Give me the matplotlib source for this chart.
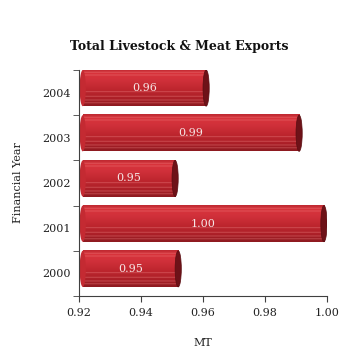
import numpy as np
import matplotlib
matplotlib.use("Agg")
import matplotlib.pyplot as plt
from matplotlib.patches import Ellipse
from matplotlib.colors import to_rgb

years = ["2000", "2001", "2002", "2003", "2004"]
exports = [0.952, 0.999, 0.951, 0.991, 0.961]
labels = ["0.95", "1.00", "0.95", "0.99", "0.96"]
xticks = [0.92, 0.94, 0.96, 0.98, 1.00]

plt.rcParams['font.family'] = ['DejaVu Serif']

fig = plt.figure(figsize=(3.41, 3.49), dpi=100)
ax = fig.add_axes([0.2317, 0.152, 0.7273, 0.6474])

xmin, xmax = 0.92, 1.00

# vertical shading of the cylinder, top -> bottom
stops = [(0.0, "#c02a32"), (0.1, "#d8343c"), (0.3, "#d0303a"),
         (0.55, "#be262e"), (0.8, "#ac2028"), (1.0, "#8e1a20")]
n = 40
pos = np.linspace(0, 1, n)
grad = np.zeros((n, 1, 3))
for c in range(3):
    grad[:, 0, c] = np.interp(pos, [s[0] for s in stops], [to_rgb(s[1])[c] for s in stops])
# light stripes
for r in [3, 6, 24, 29, 33, 36]:
    grad[r, 0, :] = grad[r, 0, :] * 0.6 + 0.4 * np.array(to_rgb("#f08888"))

h = 0.8
off = 0.1
x0 = xmin + 0.0012
capw = 0.002
for i, (v, lab) in enumerate(zip(exports, labels)):
    y0 = i + off - h / 2
    y1 = i + off + h / 2
    ax.imshow(grad, extent=(x0, v, y0, y1), origin='upper', aspect='auto',
              interpolation='bilinear', zorder=2)
    ax.add_patch(Ellipse((x0, i + off), capw, h, facecolor="#c42a32", edgecolor='none', zorder=2))
    ax.add_patch(Ellipse((v, i + off), capw, h, facecolor="#6e1218", edgecolor="#5a0e12", lw=0.5, zorder=3))
    ax.text((x0 + v) / 2, i + off, lab, color="#f6e6e6", fontsize=8, ha='center', va='center', zorder=4)

ax.set_xlim(xmin, xmax)
ax.set_ylim(-0.5, 4.5)

for s in ['top', 'right']:
    ax.spines[s].set_visible(False)
for s in ['left', 'bottom']:
    ax.spines[s].set_color("#404040")
    ax.spines[s].set_linewidth(0.8)

ax.set_xticks(xticks)
ax.set_xticklabels(["%.2f" % t for t in xticks], fontsize=8, color="#222222")
ax.set_yticks(range(len(years)))
ax.set_yticklabels(years, fontsize=8, color="#222222")
ax.set_yticks(np.arange(-0.5, 5, 1), minor=True)
ax.tick_params(axis='y', which='major', length=0, pad=6)
ax.tick_params(axis='y', which='minor', length=4, color="#404040")
ax.tick_params(axis='x', length=4, color="#404040", pad=5)

ax.set_xlabel("MT", fontsize=8, labelpad=14, color="#222222")
ax.set_ylabel("Financial Year", fontsize=8, labelpad=14, color="#222222")
fig.text(0.526, 0.867, "Total Livestock & Meat Exports", ha='center', va='center',
         fontsize=9, fontweight='bold', color="#111111")

fig.savefig("out.png", dpi=100)
